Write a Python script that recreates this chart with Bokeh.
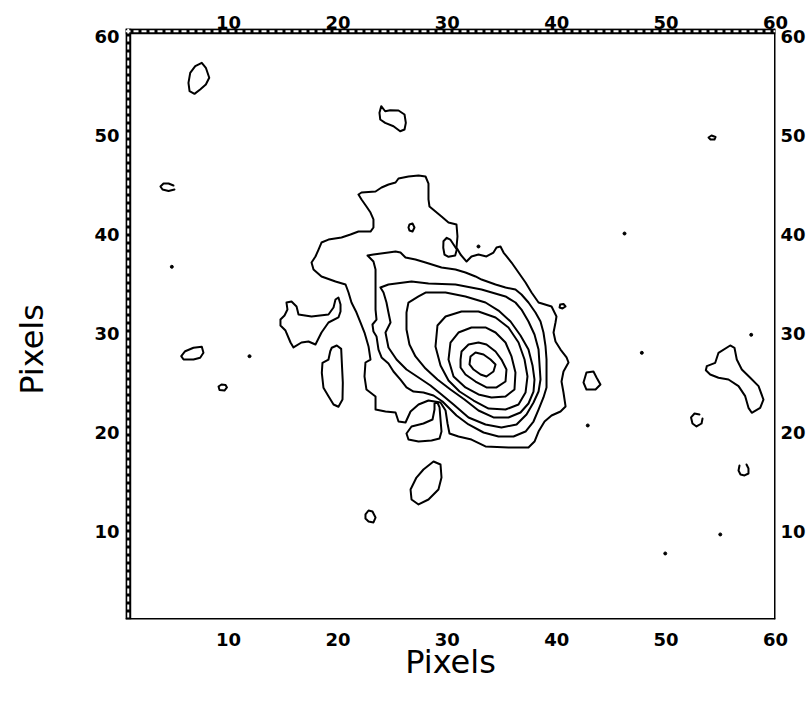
import numpy as np
from bokeh.plotting import figure
from bokeh.models import Range1d, LinearAxis, FixedTicker, Span
from bokeh.embed import file_html
from bokeh.resources import INLINE

# ---------------- data (image pixel units) ----------------
tick_values = [10, 20, 30, 40, 50, 60]
x_limits = (0.585, 60.0)
y_limits = (1.11, 60.81)

# main galaxy isophotes, outermost (level 1) to innermost (level 8)
level1_x = [21.88, 22.16, 23.44, 23.99, 24.63, 25.27, 25.54, 26.45, 27.37, 28.01, 28.28, 28.28, 28.37, 28.92,
            29.47, 30.11, 30.84, 30.93, 30.84, 31.21, 31.76, 32.21, 32.85, 33.58, 34.22, 34.50, 34.86, 35.14,
            35.87, 36.51, 37.15, 37.70, 38.34, 39.53, 39.98, 39.89, 39.71, 39.89, 40.35, 40.90, 41.08, 40.62,
            40.44, 40.62, 40.81, 40.35, 39.53, 38.89, 38.34, 37.97, 37.42, 35.59, 33.49, 32.21, 31.02, 30.20,
            30.02, 29.84, 29.38, 28.28, 27.37, 26.64, 26.18, 25.54, 25.27, 24.35, 23.44, 23.44, 22.61, 22.43,
            22.52, 22.98, 22.80, 22.43, 22.07, 21.70, 21.24, 20.97, 20.70, 19.78, 18.50, 17.77, 17.59, 17.95,
            18.23, 18.50, 19.14, 20.33, 21.15, 21.88, 22.98, 23.25, 23.25, 22.98, 22.61, 22.16]
level1_y = [44.04, 44.24, 44.34, 44.75, 45.05, 45.25, 45.66, 45.86, 45.96, 45.86, 45.15, 43.54, 42.83, 42.32,
            41.82, 41.21, 41.01, 39.80, 38.69, 37.98, 37.27, 37.78, 37.98, 37.78, 38.18, 38.69, 38.79, 38.18,
            37.17, 36.16, 35.15, 34.14, 33.13, 32.73, 31.72, 31.11, 30.10, 29.19, 28.38, 27.58, 27.07, 26.16,
            25.15, 24.04, 22.63, 22.12, 21.72, 21.11, 20.10, 19.09, 18.48, 18.48, 18.59, 19.29, 19.60, 19.90,
            20.91, 22.22, 23.03, 23.23, 22.83, 22.12, 21.01, 21.11, 22.02, 22.12, 22.32, 23.64, 24.34, 25.66,
            27.07, 27.37, 28.69, 30.10, 31.11, 32.12, 33.13, 34.14, 34.95, 35.25, 35.76, 36.46, 37.17, 37.78,
            38.48, 39.19, 39.49, 39.70, 40.00, 40.30, 40.30, 40.71, 41.52, 42.22, 42.83, 43.54]

level2_x = [22.71, 23.25, 24.62, 25.27, 25.72, 26.18, 27.09, 28.01, 29.47, 30.75, 31.66, 32.58, 33.13, 34.41,
            35.32, 36.23, 36.78, 37.42, 38.06, 38.52, 38.79, 38.98, 39.07, 39.07, 39.07, 38.79, 38.34, 37.88,
            37.15, 36.05, 34.68, 33.31, 31.94, 30.84, 29.56, 28.74, 27.82, 26.91, 26.27, 25.72, 25.08, 24.62,
            23.99, 23.71, 23.53, 23.25, 23.16, 23.53, 23.44, 23.44, 23.44, 23.44, 23.25]
level2_y = [37.88, 37.98, 38.18, 38.28, 38.18, 37.68, 37.47, 37.17, 36.67, 36.46, 36.16, 35.76, 35.45, 34.95,
            34.65, 34.44, 33.94, 33.13, 32.12, 31.21, 30.10, 28.69, 27.37, 25.66, 24.55, 23.54, 22.32, 21.11,
            20.10, 19.60, 19.60, 20.00, 20.81, 21.72, 23.13, 23.74, 24.04, 24.14, 24.55, 25.35, 26.16, 26.97,
            27.58, 28.38, 29.70, 30.20, 30.91, 31.41, 32.42, 33.74, 35.15, 36.46, 37.27]

level3_x = [23.89, 24.62, 26.73, 28.28, 30.75, 33.13, 35.32, 36.23, 36.78, 37.42, 37.97, 38.34, 38.43, 38.52,
            38.34, 37.88, 37.24, 36.33, 34.95, 33.49, 31.94, 30.57, 29.47, 28.46, 27.37, 26.27, 25.36, 24.62,
            24.35, 24.81, 24.62, 24.44, 24.17]
level3_y = [34.65, 34.95, 35.25, 35.05, 34.95, 34.44, 33.74, 33.13, 32.42, 31.21, 29.90, 28.38, 26.87, 25.35,
            24.14, 23.03, 21.82, 20.81, 20.51, 20.81, 21.52, 22.83, 23.84, 24.75, 25.56, 26.36, 27.37, 28.59,
            30.10, 31.11, 32.12, 33.13, 34.14]

level4_x = [26.27, 26.45, 27.37, 28.01, 29.84, 31.66, 33.49, 34.68, 35.78, 36.69, 37.42, 37.79, 37.97, 37.88,
            37.42, 36.69, 35.59, 34.22, 32.85, 31.57, 30.29, 29.10, 28.01, 27.09, 26.54, 26.27]
level4_y = [32.12, 33.13, 33.74, 34.14, 34.14, 33.74, 33.13, 32.32, 31.21, 29.80, 28.38, 26.77, 25.35, 24.14,
            22.93, 22.02, 21.52, 21.52, 22.22, 23.33, 24.34, 25.35, 26.46, 27.68, 28.89, 30.40]

level5_x = [28.92, 29.10, 29.84, 31.30, 32.85, 34.41, 35.59, 36.51, 37.06, 37.33, 37.15, 36.51, 35.32, 33.77,
            32.40, 31.12, 30.11, 29.38]
level5_y = [28.69, 30.81, 31.72, 32.22, 32.22, 31.62, 30.61, 29.09, 27.37, 25.66, 24.04, 22.83, 22.32, 22.42,
            23.23, 24.14, 25.25, 26.77]

level6_x = [30.11, 30.29, 31.02, 32.21, 33.49, 34.41, 35.32, 35.87, 36.23, 36.14, 35.32, 34.04, 32.85, 31.66, 30.57]
level6_y = [27.37, 29.09, 30.10, 30.61, 30.61, 30.10, 29.09, 27.68, 26.06, 24.34, 23.64, 23.54, 23.84, 24.55, 25.66]

level7_x = [31.21, 31.30, 31.94, 32.85, 33.58, 34.41, 34.95, 35.41, 35.32, 34.50, 33.58, 32.58, 31.66, 31.21]
level7_y = [27.37, 28.18, 28.89, 29.09, 28.89, 28.18, 27.37, 26.36, 25.15, 24.55, 24.55, 25.15, 25.86, 26.57]

level8_x = [32.12, 32.58, 33.31, 33.95, 34.41, 34.22, 33.58, 33.04, 32.40, 32.03]
level8_y = [27.68, 28.08, 27.88, 27.37, 26.87, 26.16, 25.66, 25.86, 26.36, 26.87]

# small closed isophotes scattered in the field
spot_a_x = [26.54, 26.82, 27.00, 26.82, 26.54, 26.45]
spot_a_y = [41.01, 41.11, 40.71, 40.30, 40.40, 40.71]
spot_b_x = [29.65, 29.95, 30.27, 30.57, 30.87, 30.72, 30.11, 29.74, 29.63]
spot_b_y = [39.32, 39.67, 39.49, 38.99, 38.48, 37.88, 37.75, 37.98, 38.66]
spot_c_x = [40.32, 40.62, 40.81, 40.53, 40.26]
spot_c_y = [32.93, 32.98, 32.73, 32.53, 32.63]
spot_d_x = [6.50, 6.96, 7.56, 7.93, 8.24, 7.93, 7.41, 6.89, 6.44, 6.34]
spot_d_y = [56.33, 57.00, 57.34, 56.84, 55.83, 55.15, 54.65, 54.21, 54.48, 55.32]
spot_e_x = [23.96, 24.32, 24.78, 25.54, 26.09, 26.21, 26.09, 25.69, 25.08, 24.32, 23.87, 23.80]
spot_e_y = [52.96, 52.45, 52.56, 52.53, 52.12, 51.28, 50.61, 50.43, 50.94, 51.28, 51.62, 52.29]
spot_f_x = [5.68, 6.04, 6.80, 7.56, 7.71, 7.41, 6.80, 5.89]
spot_f_y = [27.71, 28.21, 28.56, 28.66, 28.05, 27.55, 27.37, 27.37]
spot_g_x = [9.09, 9.36, 9.73, 9.86, 9.63, 9.18]
spot_g_y = [24.65, 24.85, 24.80, 24.55, 24.24, 24.29]
spot_h_x = [15.30, 15.76, 16.22, 16.40, 17.59, 19.14, 19.60, 19.78, 20.05, 20.24, 20.24, 20.05, 19.14, 18.50,
            17.95, 17.31, 16.67, 15.94, 15.67, 15.21, 14.75, 14.75, 15.12, 15.39]
spot_h_y = [33.13, 33.23, 32.73, 31.92, 31.72, 31.92, 32.63, 33.43, 33.64, 32.93, 32.22, 31.62, 31.11, 30.10,
            28.89, 29.19, 29.09, 28.59, 29.09, 30.30, 30.81, 31.41, 31.82, 32.42]
spot_i_x = [19.44, 19.90, 20.30, 20.36, 20.45, 20.42, 20.05, 19.60, 19.14, 18.68, 18.53, 18.59, 19.14, 19.30]
spot_i_y = [28.56, 28.79, 28.45, 27.04, 25.02, 23.33, 22.60, 22.83, 23.67, 24.52, 26.03, 27.04, 27.37, 28.21]
spot_j_x = [26.27, 26.73, 27.82, 28.65, 28.83, 28.83, 29.10, 29.29, 29.38, 29.47, 29.29, 28.56, 27.37, 26.45]
spot_j_y = [19.90, 20.61, 20.91, 21.31, 22.32, 22.93, 23.03, 22.53, 21.31, 20.10, 19.39, 19.19, 19.09, 19.29]
spot_k_x = [26.64, 27.18, 27.82, 28.74, 29.38, 29.47, 29.19, 28.28, 27.37, 26.73]
spot_k_y = [14.24, 15.45, 16.26, 17.07, 16.77, 15.45, 14.24, 13.23, 12.73, 13.23]
spot_l_x = [22.52, 22.80, 23.16, 23.44, 23.25, 22.80, 22.52]
spot_l_y = [11.72, 12.12, 12.02, 11.41, 10.91, 11.01, 11.31]
spot_m_x = [53.88, 54.15, 54.52, 54.42, 54.06]
spot_m_y = [49.80, 50.00, 49.85, 49.60, 49.60]
spot_n_x = [42.45, 42.72, 43.36, 43.64, 44.00, 43.55, 42.72]
spot_n_y = [25.05, 26.06, 26.16, 25.56, 24.85, 24.34, 24.34]
spot_o_x = [53.72, 54.49, 54.79, 55.86, 56.25, 56.46, 56.92, 57.69, 58.45, 58.90, 58.60, 57.83, 57.53, 57.23,
            56.62, 55.70, 54.79, 54.03, 53.63]
spot_o_y = [26.70, 27.04, 28.05, 28.79, 28.56, 27.37, 26.36, 25.53, 24.68, 23.33, 22.49, 21.99, 22.49, 23.67,
            24.68, 25.35, 25.53, 25.86, 26.29]

# open (unclosed) small arcs
arc_a_x = [4.97, 4.52, 4.06, 3.78, 3.97, 4.52, 5.06]
arc_a_y = [44.95, 45.15, 45.15, 44.85, 44.55, 44.39, 44.55]
arc_b_x = [53.05, 52.60, 52.28, 52.41, 52.78, 53.24, 53.33]
arc_b_y = [21.82, 21.92, 21.52, 20.91, 20.61, 20.91, 21.41]
arc_c_x = [56.71, 56.62, 56.80, 57.17, 57.53, 57.53, 57.35]
arc_c_y = [16.67, 16.16, 15.76, 15.66, 15.86, 16.36, 16.77]

# isolated single-pixel peaks
dot_x = [4.82, 11.92, 32.85, 46.20, 47.78, 42.84, 57.78, 54.95, 49.92]
dot_y = [36.74, 27.71, 38.79, 40.10, 28.05, 20.71, 29.87, 9.70, 7.78]

axis_title = "Pixels"

# ---------------- figure ----------------
closed = [(level1_x, level1_y), (level2_x, level2_y), (level3_x, level3_y), (level4_x, level4_y),
          (level5_x, level5_y), (level6_x, level6_y), (level7_x, level7_y), (level8_x, level8_y),
          (spot_a_x, spot_a_y), (spot_b_x, spot_b_y), (spot_c_x, spot_c_y), (spot_d_x, spot_d_y),
          (spot_e_x, spot_e_y), (spot_f_x, spot_f_y), (spot_g_x, spot_g_y), (spot_h_x, spot_h_y),
          (spot_i_x, spot_i_y), (spot_j_x, spot_j_y), (spot_k_x, spot_k_y), (spot_l_x, spot_l_y),
          (spot_m_x, spot_m_y), (spot_n_x, spot_n_y), (spot_o_x, spot_o_y)]
opened = [(arc_a_x, arc_a_y), (arc_b_x, arc_b_y), (arc_c_x, arc_c_y)]

xs = [list(cx) + [cx[0]] for cx, cy in closed] + [list(cx) for cx, cy in opened]
ys = [list(cy) + [cy[0]] for cx, cy in closed] + [list(cy) for cx, cy in opened]

p = figure(frame_width=650, frame_height=591,
           x_range=Range1d(*x_limits), y_range=Range1d(*y_limits),
           output_backend="svg", toolbar_location=None,
           min_border_left=125, min_border_top=28, min_border_bottom=70, min_border_right=4,
           background_fill_color="white", border_fill_color="white")
p.grid.visible = False
p.outline_line_color = None

p.multi_line(xs, ys, line_color="black", line_width=2, line_join="round", line_cap="round")
p.scatter(dot_x, dot_y, size=3, color="black")

p.add_layout(LinearAxis(), "above")
p.add_layout(LinearAxis(), "right")

standoffs = {"below": 13, "left": 6, "above": 0, "right": 5}
for side in ["below", "left", "above", "right"]:
    for ax in getattr(p, side):
        ax.ticker = FixedTicker(ticks=tick_values)
        ax.major_tick_out = 0
        ax.major_tick_in = 0
        ax.minor_tick_out = 0
        ax.minor_tick_in = 0
        ax.axis_line_color = None
        ax.major_label_text_font = "DejaVu Sans"
        ax.major_label_text_font_style = "bold"
        ax.major_label_text_font_size = "18px"
        ax.major_label_text_color = "black"
        ax.major_label_standoff = standoffs[side]

for ax in p.below:
    ax.axis_label = axis_title
    ax.axis_label_standoff = -6
for ax in p.left:
    ax.axis_label = axis_title + "\u00a0" * 5
    ax.axis_label_standoff = 40
for ax in p.below + p.left:
    ax.axis_label_text_font = "DejaVu Sans"
    ax.axis_label_text_font_style = "normal"
    ax.axis_label_text_font_size = "32px"
    ax.axis_label_text_color = "black"

# frame: solid right/bottom, hollow dashed left/top
p.add_layout(Span(location=x_limits[1], dimension="height", line_color="black", line_width=3))
p.add_layout(Span(location=y_limits[0], dimension="width", line_color="black", line_width=3))
p.add_layout(Span(location=x_limits[0] + 0.25, dimension="height", line_color="black", line_width=6))
p.add_layout(Span(location=y_limits[1] - 0.28, dimension="width", line_color="black", line_width=6))
p.add_layout(Span(location=x_limits[0] + 0.25, dimension="height", line_color="white", line_width=2,
                  line_dash="5 3"))
p.add_layout(Span(location=y_limits[1] - 0.28, dimension="width", line_color="white", line_width=2,
                  line_dash="5 3"))

open("out.html", "w").write(file_html(p, INLINE))
